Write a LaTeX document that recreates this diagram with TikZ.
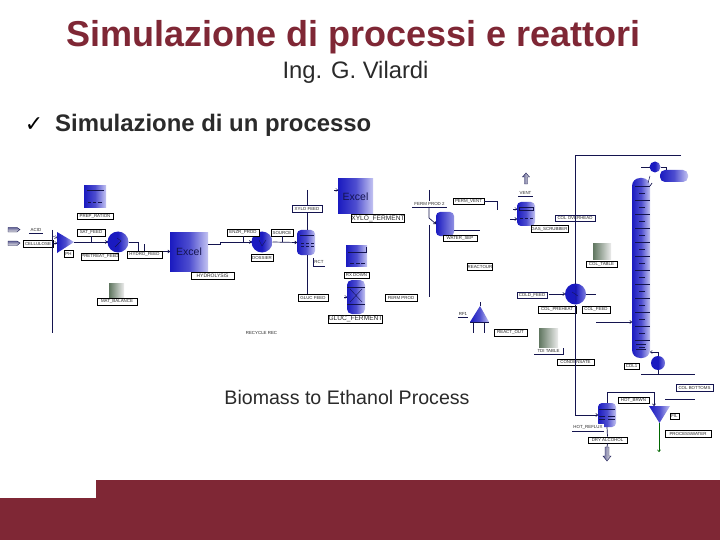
\documentclass[tikz,border=0pt]{standalone}
\usepackage{fontspec}
\setmainfont{Liberation Sans}
\newfontfamily\dejavu{DejaVu Sans}
\usetikzlibrary{arrows.meta}
\definecolor{brandred}{HTML}{7F2735}
\definecolor{linenavy}{HTML}{14144F}
\definecolor{vesselblue}{HTML}{1A1AC0}
\definecolor{vessellight}{HTML}{C4C4F2}
\definecolor{ink}{HTML}{2A2A2A}
\tikzset{
  x=1pt,y=-1pt,
  conn/.style={draw=linenavy,line width=0.7pt},
  flow/.style={conn,-{To[length=2.5pt,width=3.5pt]}},
  tag/.style={draw=black,fill=white,line width=0.5pt,font=\fontsize{4.4}{5}\selectfont,text=ink,inner sep=0pt,minimum height=6.5pt},
  bigtag/.style={tag,font=\fontsize{6.6}{7}\selectfont,minimum height=8pt},
  bluefill/.style={left color=vesselblue,right color=vessellight,middle color=vesselblue!70!vessellight},
  sheet/.style={rectangle,bluefill,inner sep=0pt,outer sep=0pt,font=\fontsize{10.5}{11}\selectfont,text=linenavy},
  vessel/.style={rectangle,rounded corners=4pt,bluefill,inner sep=0pt,outer sep=0pt},
  exch/.style={circle,inner sep=0pt,outer sep=0pt,left color=vesselblue,right color=vessellight!60!vesselblue,middle color=vesselblue},
  graybox/.style={rectangle,inner sep=0pt,outer sep=0pt,left color=black!65!green!25!gray,right color=gray!15},
  pipearrow/.style={draw=linenavy,line width=0.4pt,left color=gray!80!blue,right color=gray!20},
  innerline/.style={draw=linenavy,line width=0.6pt},
  wet/.style={draw=green!40!black,line width=0.7pt,-{To[length=2.5pt,width=3.5pt]}},
}
\begin{document}
\begin{tikzpicture}
\useasboundingbox (0,0) rectangle (720,540);
\fill[white] (0,0) rectangle (720,540);
% band
\fill[brandred] (0,498) -- (96,498) -- (96,480) -- (720,480) -- (720,540) -- (0,540) -- cycle;
% headings
\node[text=brandred,font=\bfseries\fontsize{36}{36}\selectfont,anchor=base] (title) at (353.5,47) {Simulazione di processi e reattori};
\node[text=ink,font=\fontsize{23.8}{24}\selectfont,anchor=base] (author) at (355.5,79) {Ing. G. Vilardi};
\node[text=black,font=\dejavu\fontsize{22}{22}\selectfont,anchor=base] (tick) at (34,132) {✓};
\node[text=ink,font=\bfseries\fontsize{23.9}{24}\selectfont,anchor=base west,inner sep=0pt] (sub) at (55,132) {Simulazione di un processo};
\node[text=ink,font=\fontsize{19.6}{20}\selectfont,anchor=base] (cap) at (347,404) {Biomass to Ethanol Process};

% ---- left section
\node[sheet,minimum width=22pt,minimum height=22pt] (prep) at (95,197) {};
\draw[innerline] (87,190) -- (104,190) (88,202) -- (91,202) (93,202) -- (96,202) (98,202) -- (102,202);
\node[tag,minimum width=36pt] (preplab) at (95,216.5) {PREP\_RATION};
\shade[pipearrow,shading angle=0] (8,227.5) -- (17,227.5) -- (20,229.5) -- (17,232) -- (8,232) -- cycle;
\shade[pipearrow,shading angle=0] (8,241) -- (17,241) -- (20,243) -- (17,245.5) -- (8,245.5) -- cycle;
\coordinate (acidtip) at (20,229.5);
\coordinate (celltip) at (20,243);
\node[tag,draw=none,minimum width=14pt] (acid) at (36,230) {ACID};
\draw[conn,line width=0.4pt] (acid.south west) -- (acid.south east);
\node[tag,minimum width=30pt] (cell) at (38,243.5) {CELLULOSE};
\coordinate (busT) at (52,230);
\coordinate (busB) at (52,333);
\draw[conn] (busT) -- (busB);
\shade[bluefill] (57,232) -- (74,242) -- (57,253) -- cycle;
\coordinate (pumpout) at (74,242);
\coordinate (pumpin) at (57,242);
\draw[flow,line width=0.4pt] (53,236) -- (57,238);
\draw[flow,line width=0.4pt] (53,243) -- (57,243);
\node[tag,minimum width=9pt] (pumplab) at (68.5,253.5) {PH};
\node[tag,minimum width=28pt] (satlab) at (91,232.5) {SAT\_FEED};
\node[exch,minimum size=21pt] (prehy) at (118,242) {};
\draw[flow] (pumpout) -- (prehy.west);
\draw[conn] (satlab.south) -- (91,242);
\draw[innerline,line width=0.4pt] (115,247) -- (121,241) -- (117,238);
\node[tag,minimum width=34pt] (prelab) at (100,256.5) {PRETREAT\_FEED};
\node[sheet,minimum width=38pt,minimum height=39pt] (hydro) at (189,251.5) {Excel};
\draw[flow] (prehy.east) -- (138,242) |- (hydro.west);
\draw[conn] (144,244) -- (144,251);
\node[tag,minimum width=35pt] (hylab) at (144.5,254.5) {HYDRO\_FEED};
\node[tag,minimum width=43pt,minimum height=7.5pt,font=\fontsize{5}{6}\selectfont] (hyvlab) at (212.5,275.5) {HYDROLYSIS};
\node[graybox,minimum width=15pt,minimum height=15pt] (matbox) at (116.5,290.5) {};
\node[tag,minimum width=40pt] (matlab) at (117,301.5) {MAT\_BALANCE};

% ---- middle section
\node[exch,minimum size=21pt] (dosex) at (262,242) {};
\draw[flow] (hydro.east) ++(0,-7.5) -- (220,244) -- (220,242) -- (dosex.west);
\node[tag,minimum width=32pt] (enzlab) at (243,232.5) {ENZR\_PROD};
\draw[conn] (enzlab.south) -- (243,242);
\draw[innerline,line width=0.4pt] (259,240) -- (262,246) -- (266,240);
\node[tag,minimum width=22pt] (doslab) at (262,257.5) {DOSSIER};
\node[tag,minimum width=22pt] (soulab) at (282,232.5) {SOURCE};
\node[vessel,minimum width=18pt,minimum height=25pt] (splitv) at (306,242.5) {};
\draw[innerline] (300,235) -- (314,235);
\draw[innerline] (301,243) -- (304,243) (306,243) -- (309,243) (311,243) -- (314,243);
\draw[innerline] (301,246) -- (304,246) (306,246) -- (309,246) (311,246) -- (314,246);
\draw[flow] (dosex.east) -- (splitv.west);
\draw[conn] (soulab.south) -- (282,242);
\coordinate (xyT) at (307,190);
\coordinate (glB) at (307,294);
\draw[conn] (xyT) -- (splitv.north -| xyT);
\draw[conn] (splitv.south -| glB) -- (glB);
\node[tag,draw=none,minimum width=30pt] (xylab) at (307,208.5) {XYLO FEED};
\draw[conn,line width=0.4pt] (292,205) rectangle (322,212);
\node[tag,minimum width=30pt] (gllab) at (313,297.5) {GLUC FEED};
\node[tag,minimum width=12pt,draw=none] (rctlab) at (319,262) {RCT};
\draw[conn,line width=0.4pt] (313,266) -- (325,266) (313,258) -- (313,266);
\node[sheet,minimum width=35pt,minimum height=35pt] (xylof) at (355.5,196.5) {Excel};
\coordinate (xyin) at (334,190);
\draw[flow,line width=0.4pt] (xyin) -- (xylof.west |- xyin);
\node[bigtag,minimum width=50pt] (xyflab) at (378,218.5) {XYLO\_FERMENT};
\node[sheet,minimum width=21pt,minimum height=21pt] (rxd) at (356.5,255.5) {};
\draw[innerline] (348,252) -- (366,252) -- (366,247);
\draw[innerline] (350,263) -- (354,263) (356,263) -- (360,263) (361,263) -- (365,263);
\node[tag,minimum width=25pt] (rxlab) at (356.5,275) {RX DOWN};
\node[vessel,minimum width=18pt,minimum height=34pt,rounded corners=5pt] (glucf) at (356,297) {};
\draw[innerline] (347,287) -- (365,287) (347,304) -- (365,304);
\draw[innerline,line width=0.4pt] (350,289) -- (362,302) (362,289) -- (350,302);
\coordinate (glin) at (344,297);
\draw[flow,line width=0.4pt] (glin) -- (glucf.west);
\node[bigtag,minimum width=53pt] (glflab) at (355.5,319) {GLUC\_FERMENT};
\node[tag,minimum width=32pt] (fermlab) at (401,297.5) {FERM PROD};
\node[tag,draw=none,minimum width=36pt] (reclab) at (261.5,333) {RECYCLE REC};

% ---- water separator and gas
\node[tag,draw=none,minimum width=35pt] (ferm2) at (429.5,204) {FERM PROD 2};
\draw[conn,line width=0.4pt] (412,207) -- (447,207);
\coordinate (fermT) at (429,190);
\coordinate (fermB) at (429,297);
\node[vessel,minimum width=18pt,minimum height=24pt,right color=vessellight!70!vesselblue] (watv) at (445,224) {};
\draw[conn] (fermT) -- (429,201);
\draw[flow] (429,207) -- (429,218) -- (watv.west);
\draw[conn] (429,225) -- (fermB);
\node[tag,minimum width=31pt] (pervlab) at (468.5,201.5) {PERM\_VENT};
\coordinate (perv) at (497,210);
\draw[conn] (pervlab.east) -| (perv);
\coordinate (watout) at (480,230);
\draw[conn] (watv.east |- watout) -- (watout);
\node[tag,minimum width=34pt] (watlab) at (460,238) {WATER\_SEP};
\node[tag,minimum width=24pt] (reaclab) at (480,266.5) {REACTOUR};
\shade[bluefill] (480,306) -- (489,322) -- (470,322) -- cycle;
\draw[conn] (470,322) -- (489,322);
\coordinate (rfltop) at (480,306);
\coordinate (rflcap) at (480,302);
\coordinate (rflL) at (473,333);
\coordinate (rflR) at (484,333);
\draw[conn] (rflcap) -- (rfltop);
\draw[conn] (473,322) -- (rflL);
\draw[conn] (484,322) -- (rflR);
\node[tag,draw=none,minimum width=10pt] (rfllab) at (463,313.5) {RF1};
\draw[conn,line width=0.4pt] (458,317) -- (468,317);
\node[tag,minimum width=33pt] (reaoutlab) at (510.5,332.5) {REACT\_OUT};
\shade[pipearrow,shading angle=90] (524.5,184) -- (524.5,177) -- (522.5,177) -- (526,173) -- (529.5,177) -- (527.5,177) -- (527.5,184) -- cycle;
\coordinate (ventarrow) at (526,184);
\node[tag,draw=none,minimum width=15pt] (ventlab) at (525.5,192.5) {VENT};
\draw[conn,line width=0.4pt] (518,196) -- (533,196);
\node[vessel,minimum width=18pt,minimum height=24pt] (scrub) at (526,214) {};
\draw[innerline] (519,207.5) rectangle (533,210);
\draw[innerline] (520,218) -- (523,218) (525,218) -- (528,218) (530,218) -- (533,218);
\coordinate (scrubin) at (510,219);
\draw[flow] (scrubin) -- (scrub.west |- scrubin);
\coordinate (scrubin2) at (513,209);
\draw[flow,line width=0.4pt] (scrubin2) -- (scrub.west |- scrubin2);
\node[tag,minimum width=37pt] (scrublab) at (549.5,229) {GAS\_SCRUBBER};

% ---- distillation
\node[tag,draw=none,minimum width=40pt] (ovlab) at (575,218) {COL OVERHEAD};
\draw[conn,line width=0.4pt] (555,215) rectangle (595,221);
\node[graybox,minimum width=18pt,minimum height=16pt] (coltab) at (602,251) {};
\node[tag,minimum width=31pt] (coltlab) at (601.5,264) {COL\_TABLE};
\node[exch,minimum size=21pt] (colpre) at (575.5,294) {};
\draw[innerline,line width=0.4pt] (576,286) -- (576,302) (572,292) -- (578,296);
\coordinate (topR) at (681,155);
\draw[conn] (topR) -| (colpre.north);
\node[tag,draw=none,minimum width=30pt] (coldlab) at (532,295) {COLD\_FEED};
\draw[conn,line width=0.4pt] (517,292) rectangle (547,298);
\coordinate (coldin) at (549,294);
\coordinate (hotout) at (596,294);
\draw[flow] (coldin) -- (colpre.west);
\draw[conn] (colpre.east) -- (hotout);
\node[tag,minimum width=38pt] (prelab2) at (557,309.5) {COL\_PREHEAT};
\node[tag,minimum width=28pt] (cflab) at (596,309.5) {COL\_FEED};
\node[vessel,minimum width=18pt,minimum height=180pt,rounded corners=8pt] (column) at (641,268) {};
\foreach \y in {186,200,214,228,242,256,270,284,298,312,326,340} {
  \draw[innerline] (635,\y) -- (650,\y);
  \draw[innerline,line width=0.4pt] (639,\y+7) -- (645,\y+7);
}
\draw[innerline,line width=1pt] (636,349) -- (646,349) (636,344) -- (646,344);
\coordinate (colfeedsrc) at (596,322);
\draw[flow] (colfeedsrc) -- (column.west |- colfeedsrc);
\node[exch,minimum size=11pt] (cond) at (655,167) {};
\coordinate (condin) at (641,167);
\draw[conn] (condin) -- (cond.west);
\draw[conn,line width=0.5pt] (648,183) -- (650,176);
\node[vessel,minimum width=28pt,minimum height=12pt,rounded corners=5pt] (drum) at (674,176) {};
\draw[conn] (cond.east) -| (666,170);
\draw[conn] (650,186) -- (652,183);
\node[graybox,minimum width=19pt,minimum height=19pt] (tabbox) at (548.5,337.5) {};
\node[tag,minimum width=29pt,draw=none] (tablab) at (548.5,351) {TDI TABLE};
\draw[conn,line width=0.4pt] (534,354) -- (563,354) -- (563,348);
\node[tag,minimum width=37pt] (condlab) at (575.5,362) {CONDENSATE};
\node[tag,minimum width=15pt] (col1lab) at (631.5,366) {COL1};
\node[exch,minimum size=14pt] (reb) at (658,363) {};
\draw[flow,line width=0.5pt] (reb.north) |- (650,352);
\coordinate (botL) at (641,374);
\coordinate (botR) at (695,374);
\draw[conn] (botL) -- (botR);
\draw[conn] (reb.south) -- (658,374);
\node[tag,draw=none,minimum width=37pt] (botlab) at (694.5,387.5) {COL BOTTOMS};
\draw[conn,line width=0.4pt] (676,384) rectangle (713,391);
\coordinate (botaL) at (665,399);
\coordinate (botaR) at (695,399);
\draw[conn] (botaL) -- (botaR);
\node[vessel,minimum width=18pt,minimum height=24pt] (rectv) at (607,415) {};
\draw[innerline] (599,409) -- (615,409) (599,416) -- (605,416) (608,416) -- (615,416) (599,419) -- (605,419) (608,419) -- (615,419);
\draw[flow] (colpre.south) |- (rectv.west);
\node[tag,draw=none,minimum width=32pt] (reclab2) at (588,427.5) {HOT\_REFLUX};
\draw[conn,line width=0.4pt] (572,431) -- (604,431);
\coordinate (strT) at (654,406);
\draw[flow] (rectv.north) |- (654,392) -- (strT);
\node[tag,minimum width=31pt] (hotlab) at (633.5,400) {HOT\_BRWN};
\shade[bluefill] (649,406) -- (670,406) -- (659.5,423) -- cycle;
\coordinate (filtB) at (659,423);
\coordinate (filtE) at (659,452);
\draw[wet] (filtB) -- (filtE);
\node[tag,minimum width=9pt] (fillab) at (674.5,416) {FIL};
\node[tag,minimum width=46pt] (pwlab) at (688,433.5) {PROCESSWATER};
\node[tag,minimum width=39pt] (drylab) at (607.5,440) {DRY ALCOHOL};
\coordinate (dryarrow) at (607,447);
\draw[conn] (rectv.south) -- (drylab.north);
\draw[conn] (drylab.south) -- (dryarrow);
\shade[pipearrow,shading angle=90] (605,447) -- (609,447) -- (609,456) -- (611,456) -- (607,461) -- (603,456) -- (605,456) -- cycle;
\end{tikzpicture}
\end{document}
